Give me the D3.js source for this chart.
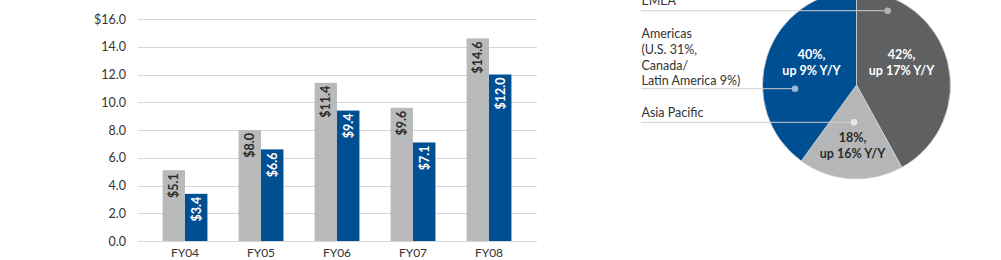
<!DOCTYPE html>
<html>
<head>
<meta charset="utf-8">
<script src="https://cdn.jsdelivr.net/npm/d3@7"></script>
<style>
  body { margin: 0; background: #fff; }
  text { font-family: Lato, "Noto Sans", sans-serif; }
</style>
</head>
<body>
<div id="wrapper"></div>
<script>
// DATA
const years = ["FY04", "FY05", "FY06", "FY07", "FY08"]
const revenue = [5.1, 8.0, 11.4, 9.6, 14.6]
const income = [3.4, 6.6, 9.4, 7.1, 12.0]
const yTicks = [0, 2, 4, 6, 8, 10, 12, 14, 16]

const regions = ["EMEA", "Asia Pacific", "Americas"]
const shares = [42, 18, 40]
const growth = [17, 16, 9]
const regionNames = [["EMEA"], ["Asia Pacific"], ["Americas", "(U.S. 31%,", "Canada/", "Latin America 9%)"]]

const gray = "#b9babc"
const blue = "#004f93"
const darkGray = "#5f6062"

const svg = d3.select("#wrapper")
  .append("svg")
  .attr("width", 1001)
  .attr("height", 260)

// BAR CHART
const xScale = d3.scaleBand()
  .domain(years)
  .range([147, 527])
  .paddingInner(0.41)
  .paddingOuter(0.205)

const yScale = d3.scaleLinear()
  .domain([0, 16])
  .range([241, 19])

const bars = svg.append("g")

bars.selectAll("line.grid")
  .data(yTicks)
  .join("line")
  .attr("class", "grid")
  .attr("x1", 138)
  .attr("x2", 537)
  .attr("y1", d => Math.round(yScale(d)) + 0.5)
  .attr("y2", d => Math.round(yScale(d)) + 0.5)
  .attr("stroke", "#d6d7d8")
  .attr("stroke-width", 1)

bars.selectAll("text.tick")
  .data(yTicks)
  .join("text")
  .attr("class", "tick")
  .attr("x", 126)
  .attr("y", d => yScale(d) + 4.5)
  .attr("text-anchor", "end")
  .style("font-size", "12.5px")
  .style("fill", "#333")
  .text(d => (d === 16 ? "$" : "") + d.toFixed(1))

const bw = xScale.bandwidth() / 2

const series = [
  { values: revenue, color: gray, textColor: "#2b2b2b", offset: 0 },
  { values: income, color: blue, textColor: "#fff", offset: bw }
]

series.forEach(s => {
  const g = bars.append("g")
  g.selectAll("rect")
    .data(years)
    .join("rect")
    .attr("x", d => xScale(d) + s.offset)
    .attr("y", (d, i) => yScale(s.values[i]))
    .attr("width", bw)
    .attr("height", (d, i) => yScale(0) - yScale(s.values[i]))
    .attr("fill", s.color)

  g.selectAll("text")
    .data(years)
    .join("text")
    .attr("transform", (d, i) => `translate(${xScale(d) + s.offset + bw / 2 + 4.5}, ${yScale(s.values[i]) + 3}) rotate(-90)`)
    .attr("text-anchor", "end")
    .style("font-size", "12.5px")
    .style("font-weight", "bold")
    .style("fill", s.textColor)
    .text((d, i) => "$" + s.values[i].toFixed(1))
})

bars.selectAll("text.cat")
  .data(years)
  .join("text")
  .attr("class", "cat")
  .attr("x", d => xScale(d) + xScale.bandwidth() / 2)
  .attr("y", 257)
  .attr("text-anchor", "middle")
  .style("font-size", "12px")
  .style("fill", "#333")
  .text(d => d)

// PIE CHART
const cx = 856.5, cy = 85, r = 94

const pie = d3.pie().sort(null).value(d => d)
const arcs = pie(shares)
const arc = d3.arc().innerRadius(0).outerRadius(r)

const pieG = svg.append("g")
  .attr("transform", `translate(${cx},${cy})`)

const sliceColors = [darkGray, "#b5b6b8", blue]
const sliceText = ["#fff", "#2b2b2b", "#fff"]

pieG.selectAll("path")
  .data(arcs)
  .join("path")
  .attr("d", arc)
  .attr("fill", (d, i) => sliceColors[i])
  .attr("stroke", "#d0d3d8")
  .attr("stroke-width", 0.8)

// slice labels
const labelPos = [[45, -26], [-4, 57], [-45, -26]]
arcs.forEach((a, i) => {
  const t = pieG.append("text")
    .attr("text-anchor", "middle")
    .style("font-size", "12.5px")
    .style("font-weight", "bold")
    .style("fill", sliceText[i])
  t.append("tspan")
    .attr("x", labelPos[i][0])
    .attr("y", labelPos[i][1])
    .text(shares[i] + "%,")
  t.append("tspan")
    .attr("x", labelPos[i][0])
    .attr("y", labelPos[i][1] + 16)
    .text("up " + growth[i] + "% Y/Y")
})

// leader lines and region names
const leaders = [
  { y: 10.7, dotX: 887.7, textY: [5] },
  { y: 122.3, dotX: 854, textY: [117] },
  { y: 88.7, dotX: 795, textY: [38, 54, 69.5, 85] }
]
const dotColors = ["#b3b4b6", "#e6e7e8", "#a7b6cf"]

leaders.forEach((l, i) => {
  svg.append("line")
    .attr("x1", 641)
    .attr("x2", l.dotX)
    .attr("y1", l.y)
    .attr("y2", l.y)
    .attr("stroke", "#cfd0d2")
    .attr("stroke-width", 1)
  svg.append("circle")
    .attr("cx", l.dotX)
    .attr("cy", l.y)
    .attr("r", 3.3)
    .attr("fill", dotColors[i])
  const t = svg.append("text")
    .style("font-size", "12.5px")
    .style("fill", "#333")
  regionNames[i].forEach((line, j) => {
    t.append("tspan")
      .attr("x", 641.5)
      .attr("y", l.textY[j])
      .text(line)
  })
})
</script>
</body>
</html>
